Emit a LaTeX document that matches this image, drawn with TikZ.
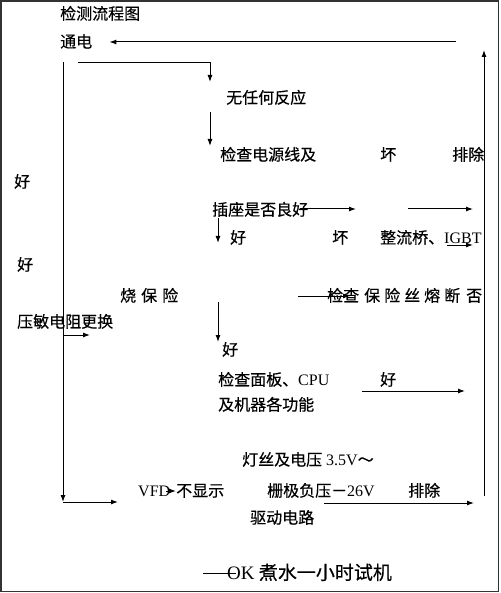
\documentclass[tikz,border=0pt]{standalone}
\usepackage{fontspec}
\setmainfont{Liberation Serif}
\newfontfamily\cjk[FakeBold=0.4]{Noto Sans CJK SC}
\usetikzlibrary{arrows.meta}
\newcommand{\latn}[1]{{\rmfamily #1}}

\tikzset{
	txt/.style={anchor=west, inner sep=0pt, text height=13pt, text depth=2pt, font=\fontsize{16}{18}\cjk},
	bigtxt/.style={txt, text height=15pt, font=\fontsize{19}{21}\cjk},
	flow/.style={line width=1pt, -{Latex[length=7pt,width=5pt]}},
	plain/.style={line width=1pt}
}

\begin{document}
\begin{tikzpicture}[x=1pt, y=-1pt]
				\useasboundingbox (0,0) rectangle (500,593);
				\draw [line width=1.6pt, black!80] (1.2,1.2) rectangle (498.6,591.6);
				
				\node [txt] (title) at (60,14) {检测流程图};
				\node [txt] (tongdian) at (60,42) {通电};
				\node [txt] (fanying) at (226,98) {无任何反应};
				\node [txt] (dianyuan) at (220,155) {检查电源线及};
				\node [txt] (huaiA) at (380,155) {坏};
				\node [txt] (paichuA) at (452,155) {排除};
				\node [txt] (haoL1) at (14,182) {好};
				\node [txt] (chazuo) at (212,210) {插座是否良好};
				\node [txt] (haoA) at (230,238) {好};
				\node [txt] (huaiB) at (332,238) {坏};
				\node [txt] (igbt) at (380,238) {整流桥、\latn{IGBT}};
				\node [txt] (haoL2) at (17,265) {好};
				\node [txt] (shao) at (120,296) {烧\kern5pt保\kern5pt险};
				\node [txt] (baoxian) at (327,296) {检查\kern5pt保\kern4pt险\kern4pt丝\kern4pt熔\kern4pt断\kern6pt否};
				\node [txt] (yamin) at (17,322) {压敏电阻更换};
				\node [txt] (haoB) at (222,350) {好};
				\node [txt] (mianban) at (218,380) {检查面板、\latn{CPU}};
				\node [txt] (haoC) at (380,380) {好};
				\node [txt] (jiqi) at (218,405) {及机器各功能};
				\node [txt] (dengsi) at (242,460) {灯丝及电压\kern4pt\latn{3.5V}～};
				\node [txt] (vfd) at (138,491) {\latn{VFD}\kern6pt不显示};
				\node [txt] (shanji) at (267,491) {栅极负压－\latn{26V}};
				\node [txt] (paichuB) at (408,491) {排除};
				\node [txt] (qudong) at (250,518) {驱动电路};
				\node [bigtxt] (ok) at (227,573) {\latn{OK} 煮水一小时试机};
				
				\coordinate (topR) at (456,42);
				\coordinate (rBot) at (484,496);
				\coordinate (rTop) at (484,50);
				\coordinate (lTop) at (63,62);
				\coordinate (lBot) at (63,502);
				\coordinate (lEnd) at (118,502);
				\coordinate (tdOut) at (78,63);
				\coordinate (fyIn) at (210,82);
				\coordinate (fyOut) at (210,112);
				\coordinate (dyIn) at (210,146);
				\coordinate (czA) at (300,209);
				\coordinate (czB) at (356,209);
				\coordinate (czC) at (408,209);
				\coordinate (czD) at (473,209);
				\coordinate (czOut) at (218,218);
				\coordinate (haoAIn) at (218,243);
				\coordinate (igA) at (447,245);
				\coordinate (igB) at (473,245);
				\coordinate (bxA) at (298,296);
				\coordinate (bxB) at (350,296);
				\coordinate (ymA) at (63,335);
				\coordinate (ymB) at (90,335);
				\coordinate (shOut) at (218,302);
				\coordinate (haoBIn) at (218,342);
				\coordinate (mbA) at (362,391);
				\coordinate (mbB) at (465,391);
				\coordinate (vfdA) at (166,491);
				\coordinate (vfdB) at (176,491);
				\coordinate (sjA) at (324,503);
				\coordinate (sjB) at (474,503);
				\coordinate (okA) at (203,573);
				\coordinate (okB) at (236,573);
				
				\draw [flow] (topR) -- ([xshift=17pt]tongdian.east);
				\draw [flow] (rBot) -- (rTop);
				\draw [flow] (lTop) -- (lBot);
				\draw [flow] (lBot) -- (lEnd);
				\draw [flow] (tdOut) -| (fyIn);
				\draw [flow] (fyOut) -- (dyIn);
				\draw [flow] (czA) -- (czB);
				\draw [flow] (czC) -- (czD);
				\draw [flow] (czOut) -- (haoAIn);
				\draw [flow] (igA) -- (igB);
				\draw [flow] (bxA) -- (bxB);
				\draw [flow] (ymA) -- (ymB);
				\draw [flow] (shOut) -- (haoBIn);
				\draw [flow] (mbA) -- (mbB);
				\draw [flow] (vfdA) -- (vfdB);
				\draw [flow] (sjA) -- (sjB);
				\draw [plain] (okA) -- (okB);
				\end{tikzpicture}
\end{document}
